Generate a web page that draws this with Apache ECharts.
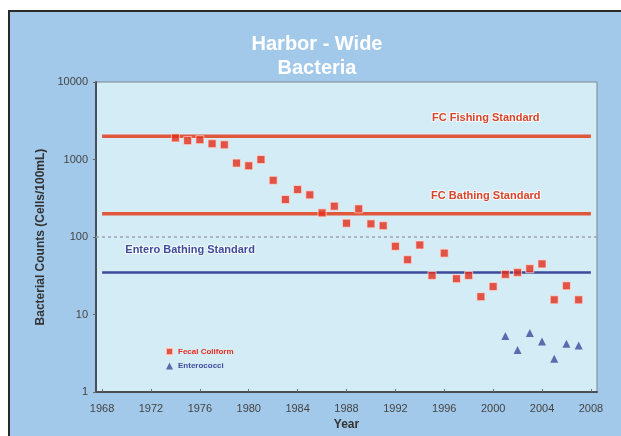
<!DOCTYPE html>
<html>
<head>
<meta charset="utf-8">
<script src="https://cdn.jsdelivr.net/npm/echarts@6/dist/echarts.min.js"></script>
<style>
  html, body { margin: 0; padding: 0; background: #fff; }
  #frame {
    position: absolute; left: 8px; top: 10px; width: 613px; height: 426px;
    background: #a2c9ea; border-left: 2px solid #2a2a2a; border-top: 2px solid #2a2a2a;
  }
  #chart { position: absolute; left: 0; top: 0; width: 621px; height: 436px; }
</style>
</head>
<body>
<div id="frame"></div>
<div id="chart"></div>
<script>
// fecal coliform, yearly
const fcYears = [1974, 1975, 1976, 1977, 1978, 1979, 1980, 1981, 1982, 1983, 1984, 1985, 1986, 1987, 1988, 1989, 1990,
  1991, 1992, 1993, 1994, 1995, 1996, 1997, 1998, 1999, 2000, 2001, 2002, 2003, 2004, 2005, 2006, 2007];
const fcValues = [1900, 1750, 1800, 1600, 1550, 900, 830, 1000, 540, 305, 410, 350, 205, 250, 151, 231, 148,
  140, 76, 51, 79, 32, 62, 29, 32, 17, 23, 33, 35, 39, 45, 15.5, 23.5, 15.5];

// enterococci
const entYears = [2001, 2002, 2003, 2004, 2005, 2006, 2007];
const entValues = [5.3, 3.5, 5.8, 4.5, 2.7, 4.2, 4.0];

// standards
const standardNames = ["FC Fishing Standard", "FC Bathing Standard", "Entero Bathing Standard"];
const standardValues = [2000, 200, 35];
const standardLabelYear = [1999.4, 1999.4, 1975.2];

const yearTicks = [1968, 1972, 1976, 1980, 1984, 1988, 1992, 1996, 2000, 2004, 2008];
const lineStart = 1968, lineEnd = 2008;

const red = "#e52d1c", redLine = "#e0573c", blue = "#3d4b9c";
const font = "Liberation Sans, Arial, sans-serif";

const chart = echarts.init(document.getElementById("chart"));

const fcData = fcYears.map((y, i) => [y, fcValues[i]]);
const entData = entYears.map((y, i) => [y, entValues[i]]);

function standardSeries(i) {
  const col = i < 2 ? redLine : blue;
  return {
    name: standardNames[i],
    type: "line",
    data: [[lineStart, standardValues[i]], [lineEnd, standardValues[i]]],
    symbol: "none",
    silent: true,
    lineStyle: { color: col, width: i < 2 ? 3.5 : 2.5 },
    z: 2,
    markPoint: {
      symbol: "rect",
      symbolSize: 0,
      silent: true,
      data: [{ coord: [standardLabelYear[i], standardValues[i]] }],
      label: {
        show: true,
        formatter: standardNames[i],
        position: "inside",
        offset: [0, i < 2 ? -18 : -22],
        color: i < 2 ? "#d9452b" : "#3d4b9c",
        fontFamily: font,
        fontSize: 11,
        fontWeight: "bold",
        textBorderColor: "rgba(255,255,255,0.8)",
        textBorderWidth: 2
      }
    }
  };
}

chart.setOption({
  backgroundColor: "transparent",
  animation: false,
  title: {
    text: "Harbor - Wide\nBacteria",
    left: 312,
    textAlign: "center",
    top: 27,
    textStyle: { color: "#fff", fontFamily: font, fontSize: 20, fontWeight: "bold", lineHeight: 24 }
  },
  legend: {
    orient: "vertical",
    left: 160,
    top: 342,
    itemWidth: 7,
    itemHeight: 7,
    itemGap: 6,
    data: [
      { name: "Fecal Coliform", icon: "rect", textStyle: { color: red } },
      { name: "Enterococci", icon: "triangle", textStyle: { color: blue } }
    ],
    textStyle: { fontFamily: font, fontSize: 8, fontWeight: "bold" }
  },
  grid: {
    left: 96, right: 24, top: 82, bottom: 43,
    show: true,
    backgroundColor: "#d4ecf5",
    borderColor: "#7d8790",
    borderWidth: 1
  },
  xAxis: {
    type: "value",
    min: 1967.5,
    max: 2008.5,
    name: "Year",
    nameLocation: "middle",
    nameGap: 23,
    nameTextStyle: { fontFamily: font, fontSize: 12, fontWeight: "bold", color: "#333" },
    axisLine: { lineStyle: { color: "#4a4f55", width: 2 } },
    axisTick: { inside: true, length: 3, customValues: yearTicks, lineStyle: { color: "#666" } },
    axisLabel: { customValues: yearTicks, formatter: v => String(v), margin: 11, fontFamily: font, fontSize: 11, color: "#444" },
    splitLine: { show: false }
  },
  yAxis: {
    type: "log",
    logBase: 10,
    min: 1,
    max: 10000,
    name: "Bacterial Counts (Cells/100mL)",
    nameLocation: "middle",
    nameGap: 46,
    nameTextStyle: { fontFamily: font, fontSize: 12, fontWeight: "bold", color: "#333" },
    axisLine: { show: true, lineStyle: { color: "#4a4f55", width: 2 } },
    axisTick: { show: true, inside: false, length: 3, lineStyle: { color: "#666" } },
    axisLabel: { formatter: v => String(Math.round(v)), margin: 8, fontFamily: font, fontSize: 11, color: "#444" },
    splitLine: { show: false }
  },
  series: [
    standardSeries(0),
    standardSeries(1),
    standardSeries(2),
    {
      name: "Fecal Coliform",
      type: "scatter",
      data: fcData,
      symbol: "rect",
      symbolSize: 8,
      itemStyle: { color: red, borderColor: "rgba(255,225,215,0.9)", borderWidth: 1 },
      z: 5,
      markLine: {
        silent: true,
        symbol: "none",
        label: { show: false },
        data: [{ yAxis: 100 }],
        lineStyle: { color: "#9aa4aa", width: 1.5, type: [3, 3] }
      }
    },
    {
      name: "Enterococci",
      type: "scatter",
      data: entData,
      symbol: "triangle",
      symbolSize: 8,
      itemStyle: { color: blue },
      z: 5
    }
  ]
});
</script>
</body>
</html>
